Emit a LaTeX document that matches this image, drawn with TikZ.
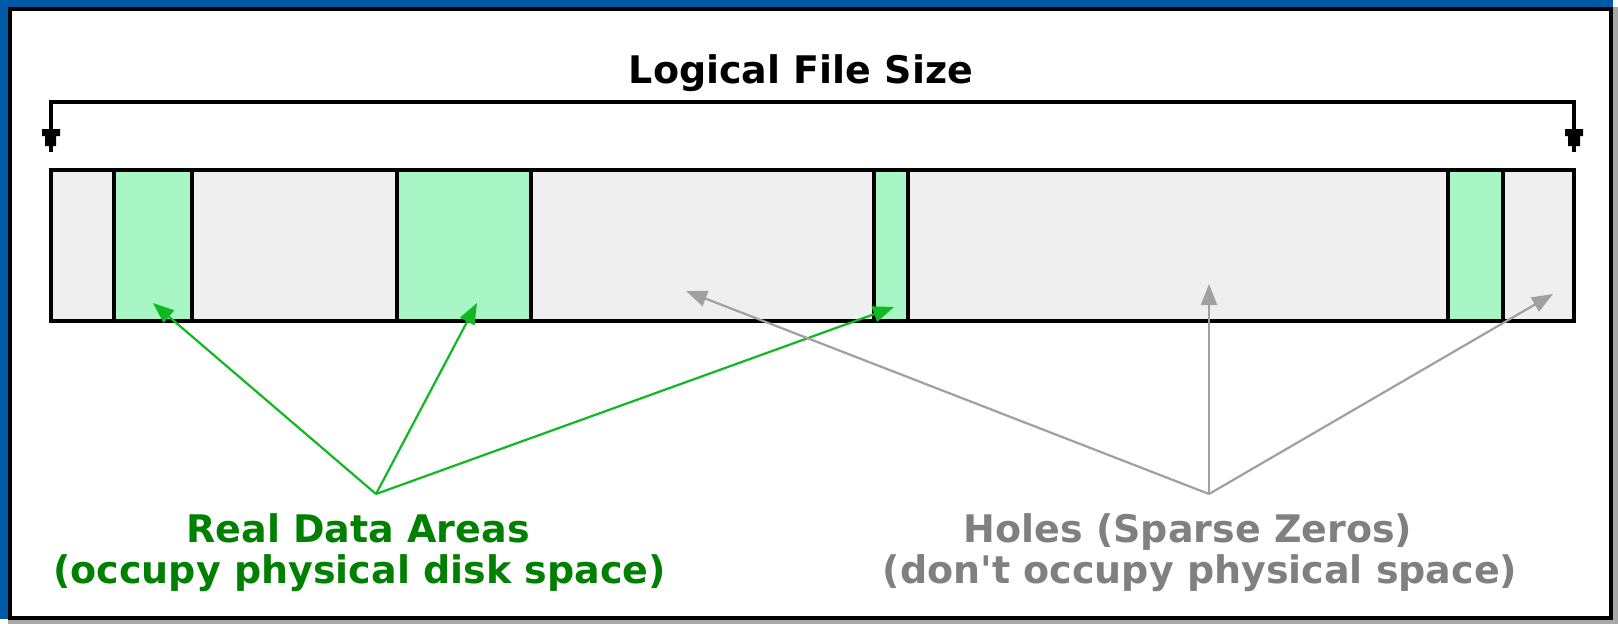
\documentclass[tikz,border=0pt]{standalone}
\usepackage{fontspec}
\setmainfont{DejaVu Sans}
\usetikzlibrary{arrows.meta}
\definecolor{winblue}{RGB}{0,89,166}
\definecolor{holegray}{RGB}{239,239,239}
\definecolor{datagreen}{RGB}{168,245,197}
\definecolor{arrowgreen}{RGB}{16,185,36}
\definecolor{textgreen}{RGB}{0,128,0}
\definecolor{arrowgray}{RGB}{160,160,160}
\definecolor{textgray}{RGB}{128,128,128}
\definecolor{shadowgray}{RGB}{168,168,168}
\tikzset{
  frameline/.style={draw=black, line width=4pt},
  holeseg/.style={fill=holegray},
  dataseg/.style={fill=datagreen},
  divider/.style={draw=black, line width=4pt},
  bracketline/.style={draw=black, line width=4pt},
  tipshape/.style={fill=black},
  greenconn/.style={draw=arrowgreen, line width=2.2pt, -{Triangle[length=21pt,width=16pt]}},
  grayconn/.style={draw=arrowgray, line width=2.2pt, -{Triangle[length=21pt,width=16pt]}},
  lbl/.style={anchor=base, inner sep=0pt, font=\fontsize{38}{44}\selectfont\bfseries},
}
\begin{document}
\begin{tikzpicture}[x=1pt,y=-1pt]
\useasboundingbox (0,0) rectangle (1618,624);
% window frame
\fill[white] (0,0) rectangle (1618,624);
\fill[shadowgray] (8,7) rectangle (1618,624);
\fill[winblue] (0,0) rectangle (1613,619);
\filldraw[fill=white, frameline] (10,8.5) rectangle (1611,617.5);
% bar segments
\fill[holeseg] (51,169.5) rectangle (1574,321);
\fill[dataseg] (114,169.5) rectangle (192,321);
\fill[dataseg] (397,169.5) rectangle (531,321);
\fill[dataseg] (874,169.5) rectangle (907.5,321);
\fill[dataseg] (1448,169.5) rectangle (1503,321);
\foreach \x in {114,192,397,531,874,907.5,1448,1503}
  \draw[divider] (\x,169.5) -- (\x,321);
\draw[frameline] (51,169.5) rectangle (1574,321);
% bracket
\coordinate (bl) at (51,152);
\coordinate (br) at (1574,152);
\draw[bracketline] (bl) -- (51,102) -- (1574,102) -- (br);
\fill[tipshape] (42,129) -- (60,129) -- (60,136) -- (56,136) -- (56,146) -- (45,146) -- (45,136) -- (42,136) -- cycle;
\fill[tipshape] (1565,129) -- (1583,129) -- (1583,136) -- (1580,136) -- (1580,146) -- (1568,146) -- (1568,136) -- (1565,136) -- cycle;
% title
\node[lbl] (title) at (801,83) {Logical File Size};
% labels
\node[lbl, text=textgreen] (real1) at (358,542) {Real Data Areas};
\node[lbl, text=textgreen] (real2) at (359.5,583) {(occupy physical disk space)};
\node[lbl, text=textgray] (hole1) at (1188,542) {Holes (Sparse Zeros)};
\node[lbl, text=textgray] (hole2) at (1200,583) {(don\textquotesingle t occupy physical space)};
% connector ends
\coordinate (gsrc) at (376,494);
\coordinate (hsrc) at (1209,494);
\coordinate (g1) at (153,303);
\coordinate (g2) at (477,303);
\coordinate (g3) at (894,307);
\coordinate (h1) at (686,291);
\coordinate (h2) at (1209,284);
\coordinate (h3) at (1553,294);
\draw[greenconn] (gsrc) -- (g1);
\draw[greenconn] (gsrc) -- (g2);
\draw[greenconn] (gsrc) -- (g3);
\draw[grayconn] (hsrc) -- (h1);
\draw[grayconn] (hsrc) -- (h2);
\draw[grayconn] (hsrc) -- (h3);
\end{tikzpicture}
\end{document}
